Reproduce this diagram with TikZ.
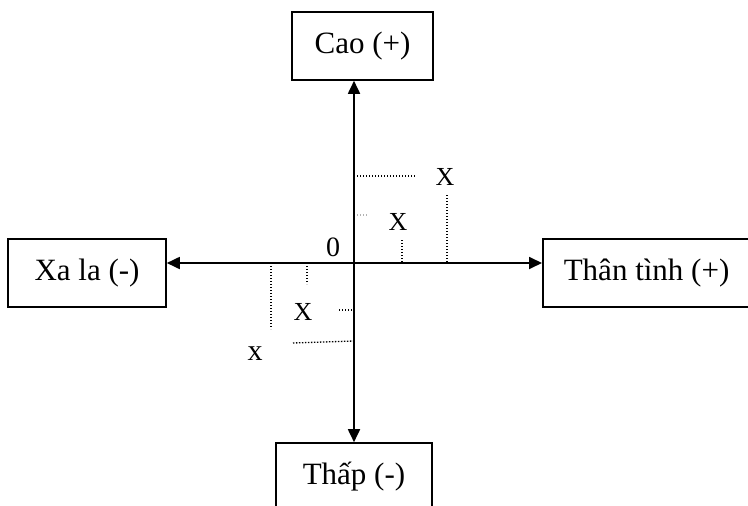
\documentclass[tikz,border=0pt]{standalone}
\usepackage{fontspec}
\setmainfont{Liberation Serif}
\usetikzlibrary{arrows.meta}
\begin{document}
\begin{tikzpicture}[x=1pt,y=-1pt,
  box/.style={draw,line width=1.6pt,inner sep=0pt,minimum height=68pt,font=\fontsize{31}{36}\selectfont},
  axis/.style={line width=1.8pt,{Triangle[length=13pt,width=12pt]}-{Triangle[length=13pt,width=12pt]}},
  guide/.style={line width=1.3pt,dash pattern=on 1.3pt off 1.7pt},
  xlab/.style={inner sep=0pt,font=\fontsize{26}{30}\selectfont},
  smallx/.style={inner sep=0pt,font=\fontsize{30}{34}\selectfont}
]
\useasboundingbox (0,0) rectangle (748,506);
\node[box,minimum width=141pt] (cao) at (362.5,46) {Cao (+)};
\node[box,minimum width=158pt] (xala) at (87,273) {Xa la (-)};
\node[box,anchor=west,inner xsep=21pt] (than) at (542,273) {Thân tình (+)\hspace{20pt}};
\node[box,minimum width=156pt] (thap) at (354,477) {Thấp (-)};
\coordinate (O) at (354,263);
\draw[axis] (O -| xala.east) -- (O -| than.west);
\draw[axis] (O |- cao.south) -- (O |- thap.north);
\node[inner sep=0pt,font=\fontsize{28}{32}\selectfont] (zero) at (333,247) {0};
% upper right marks
\node[xlab] (x1) at (445,177) {X};
\node[xlab] (x2) at (398,222) {X};
\draw[guide] (357,176) -- (415,176);
\draw[guide] (447,195) -- (447,263);
\draw[guide,gray!60] (357,215) -- (368,215);
\draw[guide] (402,240) -- (402,263);
% lower left marks
\node[xlab] (x3) at (303,312) {X};
\node[smallx] (x4) at (255,354) {x};
\draw[guide] (271,263) -- (271,329);
\draw[guide] (307,263) -- (307,284);
\draw[guide] (339,310) -- (354,310);
\draw[guide] (293,343) -- (354,341);
\end{tikzpicture}
\end{document}
